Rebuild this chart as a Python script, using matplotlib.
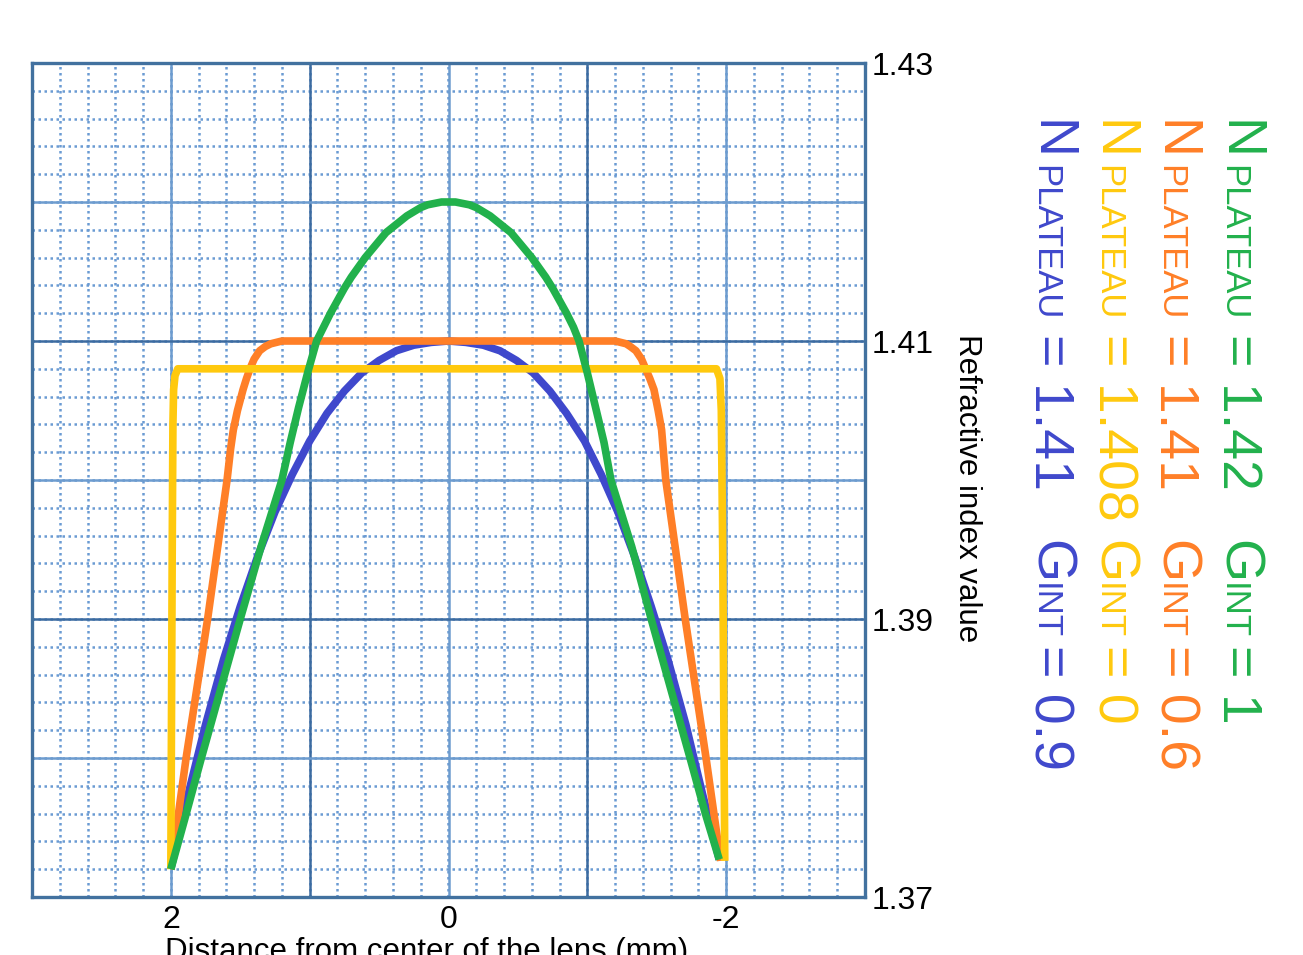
import numpy as np
import matplotlib
matplotlib.use("Agg")
import matplotlib.pyplot as plt
from matplotlib.transforms import IdentityTransform

plt.rcParams['font.family'] = ['Liberation Sans', 'DejaVu Sans']

# --- данные ---
green_x = [2.0, 1.9, 1.78, 1.64, 1.5, 1.35, 1.2, 1.14, 1.08, 1.015, 0.95, 0.9, 0.85, 0.8, 0.75, 0.7, 0.65, 0.6,
           0.55, 0.5, 0.45, 0.4, 0.35, 0.3, 0.25, 0.2, 0.15, 0.1, 0.05, 0.0,
           -0.05, -0.1, -0.15, -0.2, -0.25, -0.3, -0.35, -0.4, -0.45, -0.5, -0.55, -0.6, -0.65, -0.7, -0.75,
           -0.8, -0.85, -0.9, -0.94, -1.0, -1.06, -1.12, -1.17, -1.32, -1.46, -1.6, -1.74, -1.85, -1.95]
green_y = [1.3720, 1.3756, 1.3800, 1.3850, 1.3900, 1.3952, 1.4000, 1.4027, 1.4052, 1.4077, 1.4100, 1.4110, 1.4120,
           1.4129, 1.4138, 1.4146, 1.4153, 1.4160, 1.4166, 1.4172, 1.4178, 1.4182, 1.4186, 1.4190, 1.4193, 1.4196,
           1.4198, 1.4199, 1.4200, 1.4200,
           1.4200, 1.4199, 1.4198, 1.4196, 1.4193, 1.4190, 1.4186, 1.4182, 1.4178, 1.4172, 1.4166, 1.4160, 1.4153,
           1.4146, 1.4138, 1.4129, 1.4120, 1.4110, 1.4100, 1.4077, 1.4052, 1.4027, 1.4000, 1.3952, 1.3900, 1.3850,
           1.3800, 1.3760, 1.3727]

blue_x = [2.0, 1.88, 1.75, 1.62, 1.5, 1.375, 1.25, 1.125, 1.0, 0.875, 0.75, 0.625, 0.5, 0.375, 0.25, 0.125, 0.0,
          -0.125, -0.25, -0.37, -0.49, -0.61, -0.73, -0.85, -0.98, -1.1, -1.22, -1.34, -1.46, -1.58, -1.71, -1.83, -1.95]
blue_y = [1.3720, 1.3772, 1.3824, 1.3871, 1.3909, 1.3945, 1.3977, 1.4004, 1.4028, 1.4048, 1.4064, 1.4077, 1.4086, 1.4093, 1.4097, 1.4099, 1.4100,
          1.4099, 1.4097, 1.4093, 1.4086, 1.4077, 1.4064, 1.4048, 1.4028, 1.4004, 1.3977, 1.3945, 1.3909, 1.3871, 1.3824, 1.3774, 1.3727]

orange_x = [2.0, 1.89, 1.735, 1.595, 1.57, 1.55, 1.52, 1.48, 1.455, 1.43, 1.40, 1.36, 1.32, 1.28, 1.24, 1.2, 0.0,
            -1.2, -1.24, -1.28, -1.31, -1.35, -1.39, -1.42, -1.45, -1.48, -1.51, -1.535, -1.565, -1.705, -1.855, -1.96]
orange_y = [1.3720, 1.3800, 1.3900, 1.4000, 1.4022, 1.4036, 1.4050, 1.4065, 1.4073, 1.4080, 1.4087, 1.4093, 1.4096, 1.4098, 1.4099, 1.4100, 1.4100,
            1.4100, 1.4099, 1.4098, 1.4096, 1.4093, 1.4087, 1.4080, 1.4073, 1.4065, 1.4050, 1.4036, 1.4000, 1.3900, 1.3800, 1.3726]

yellow_x = [2.0, 1.99, 1.985, 1.98, 1.97, 1.95, 0.0, -1.93, -1.955, -1.965, -1.975, -1.99]
yellow_y = [1.3720, 1.3950, 1.4040, 1.4065, 1.4075, 1.4080, 1.4080, 1.4080, 1.4073, 1.4050, 1.3950, 1.3726]

x_ticks = [2, 0, -2]
y_ticks = [1.43, 1.41, 1.39, 1.37]

legend_lines = [
    ("1.42", "1", '#22b14c'),
    ("1.41", "0.6", '#ff7f27'),
    ("1.408", "0", '#ffc90e'),
    ("1.41", "0.9", '#3f48cc'),
]

W, H = 1303, 955
fig = plt.figure(figsize=(W / 100, H / 100), dpi=100)
ax = fig.add_axes([32 / W, (H - 897) / H, 833 / W, 834 / H])

ax.set_xlim(3, -3)
ax.set_ylim(1.37, 1.43)

# сетка: мелкая пунктирная и основная
for xv in np.arange(-2.8, 3.0, 0.2):
    ax.axvline(xv, color='#6a9bd3', lw=1.8, ls=(0, (1, 1.4)), zorder=1)
for yv in np.arange(1.372, 1.43, 0.002):
    ax.axhline(yv, color='#6a9bd3', lw=1.8, ls=(0, (1, 1.4)), zorder=1)
for xv in [2, 0, -2]:
    ax.axvline(xv, color='#6d9ccf', lw=1.8, zorder=2)
for xv in [1, -1]:
    ax.axvline(xv, color='#3c6ba0', lw=1.8, zorder=2)
for yv in [1.42, 1.40, 1.38]:
    ax.axhline(yv, color='#6d9ccf', lw=1.8, zorder=2)
for yv in [1.41, 1.39]:
    ax.axhline(yv, color='#3c6ba0', lw=1.8, zorder=2)

for s in ax.spines.values():
    s.set_color('#42719f')
    s.set_linewidth(2.4)

# кривые
kw = dict(lw=5.5, solid_capstyle='butt', solid_joinstyle='round')
ax.plot(blue_x, blue_y, color='#3f48cc', zorder=3, **kw)
ax.plot(orange_x, orange_y, color='#ff7f27', zorder=4, **kw)
ax.plot(yellow_x, yellow_y, color='#ffc90e', zorder=5, **kw)
ax.plot(green_x, green_y, color='#22b14c', zorder=6, **kw)

ax.set_xticks(x_ticks)
ax.set_xticklabels([str(v) for v in x_ticks])
ax.set_yticks(y_ticks)
ax.set_yticklabels([f"{v:.2f}" for v in y_ticks])
ax.yaxis.tick_right()
ax.tick_params(axis='both', length=0, labelsize=23)
ax.tick_params(axis='x', pad=6)
ax.tick_params(axis='y', pad=5)

fig.text(165 / W, 1 - 937 / H, "Distance from center of the lens (mm)", fontsize=22.5,
         ha='left', va='top')
fig.text(967 / W, 1 - 488 / H, "Refractive index value", fontsize=22.5,
         rotation=-90, ha='center', va='center')

# легенда: повёрнутый текст с капителью
renderer = fig.canvas.get_renderer()


def piece(x, y, s, size, color):
    t = fig.text(x, y, s, fontsize=size, color=color, rotation=-90,
                 rotation_mode='anchor', ha='left', va='baseline',
                 transform=IdentityTransform())
    return y - t.get_window_extent(renderer).height


big, small = 40, 25
base_x = [1223, 1160, 1098, 1035]
for (np_val, g_val, col), bx in zip(legend_lines, base_x):
    y = H - 120
    y = piece(bx, y, "N", big, col) - 5
    y = piece(bx, y, "PLATEAU", small, col) - 14
    y = piece(bx, y, "= " + np_val, big, col)
    y = H - 540
    y = piece(bx, y, "G", big, col)
    y = piece(bx, y, "INT", small, col) - 6
    piece(bx, y, "= " + g_val, big, col)

fig.savefig("out.png", dpi=100)
